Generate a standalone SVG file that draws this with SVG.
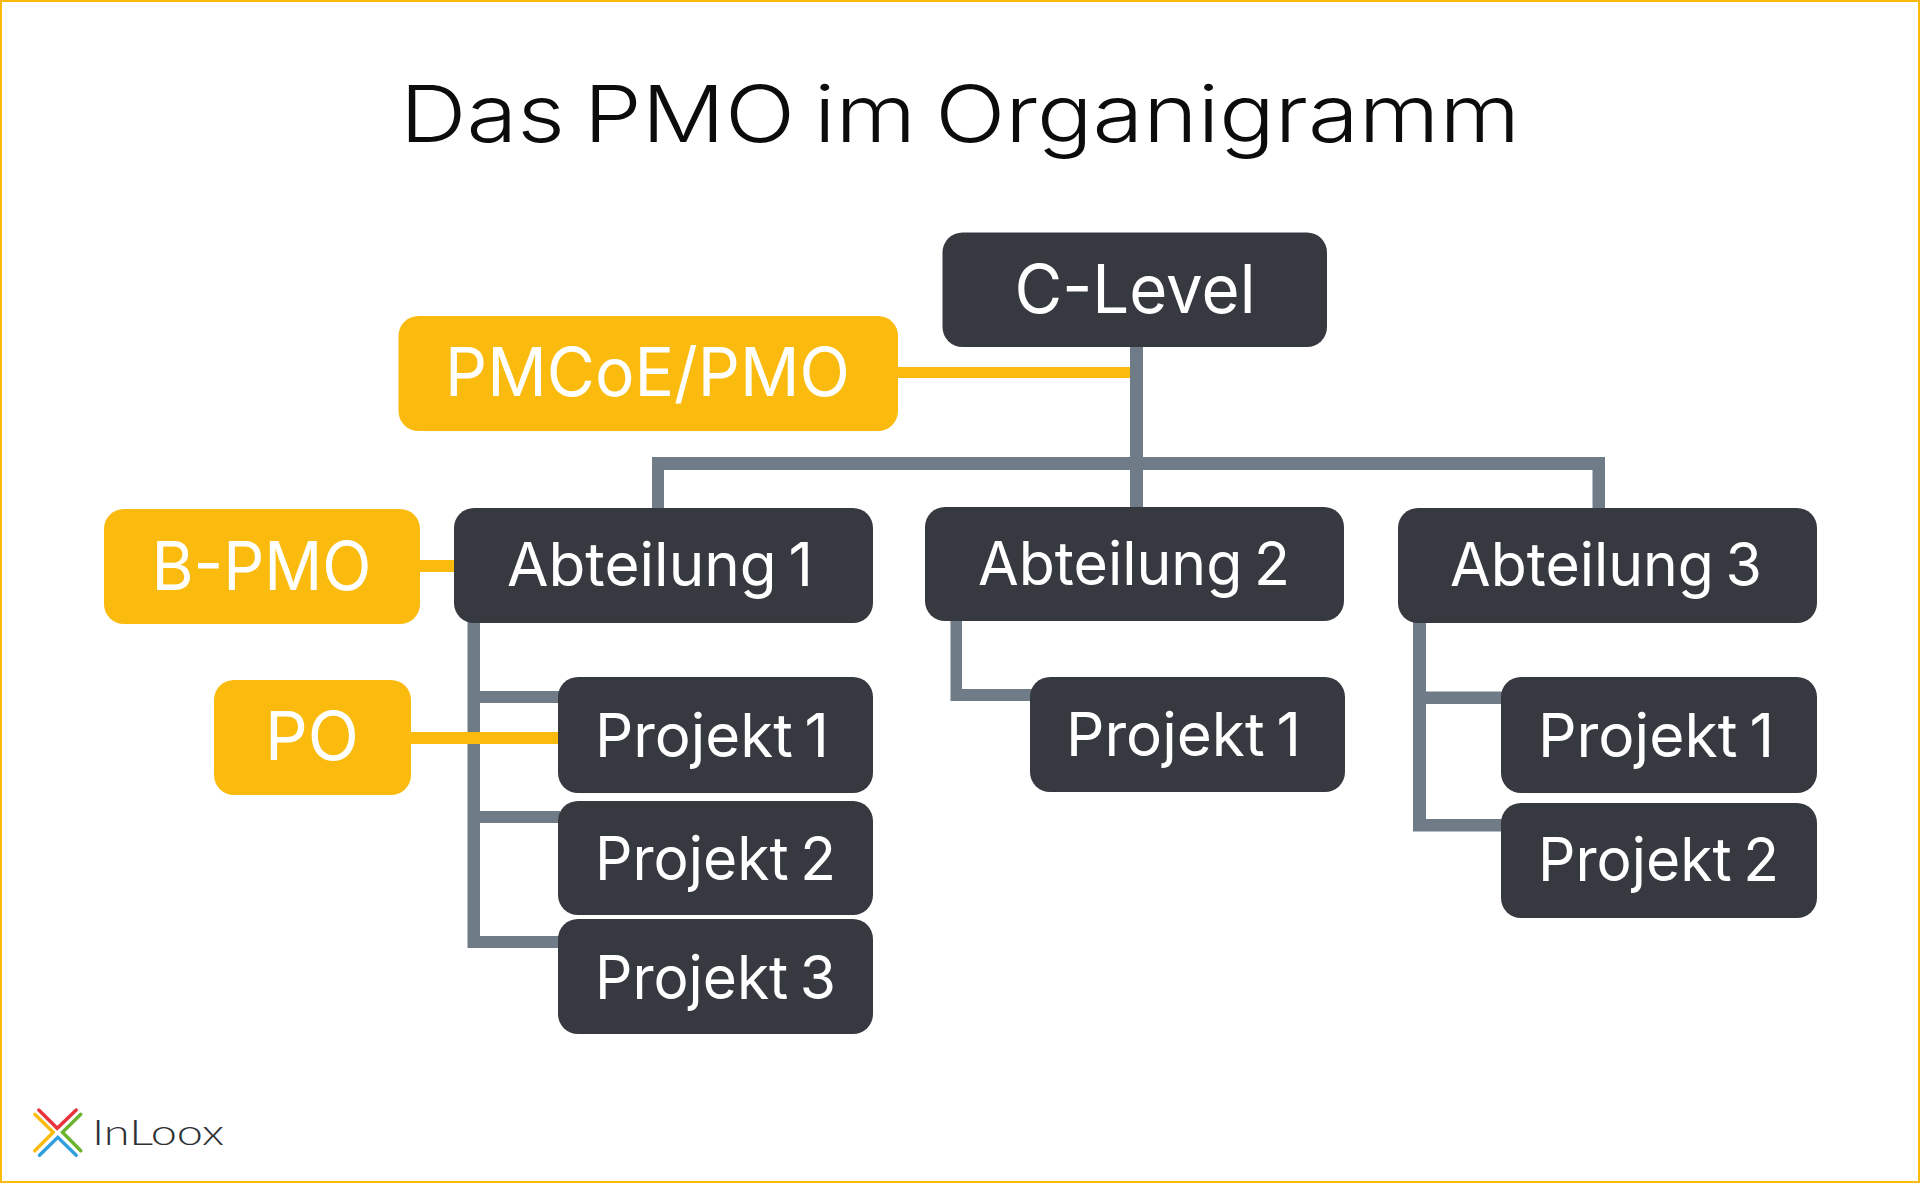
<svg xmlns="http://www.w3.org/2000/svg" width="1920" height="1183" viewBox="0 0 1920 1183">
<style>
.d{fill:#363a40}.y{fill:#fbbb0e}.g{fill:#6f7b87}.c{fill:#fbbb0e}
text{font-family:"Inter","Noto Sans",sans-serif}
.l{fill:#fff;font-size:60px;font-weight:400;word-spacing:-5px}
.m{fill:#fff;font-size:67px;font-weight:400}
.s{fill:none;stroke-width:3.4;stroke-linecap:round;stroke-linejoin:miter}
</style>
<rect width="1920" height="1183" fill="#fff"/>
<rect x="1" y="1" width="1918" height="1181" fill="none" stroke="#fbbb0e" stroke-width="2"/>
<text id="title" x="400" y="142" font-size="79" font-weight="350" word-spacing="-6" textLength="1120" lengthAdjust="spacingAndGlyphs" fill="#0c0c0c">Das PMO im Organigramm</text>
<g id="connectors">
<rect class="g" x="1130" y="340" width="13" height="170"/>
<path class="g" d="M652 510V457H1605V510H1592.500V470H664V510Z"/>
<path class="g" d="M467.500 620H480V691H560V703H480V811H560V823H480V936H560V948H467.500Z"/>
<path class="g" d="M950.500 618H962V689H1032V701H950.500Z"/>
<path class="g" d="M1413 620H1426V691.500H1503V704H1426V819H1503V831.500H1413Z"/>
<rect class="c" x="896" y="367" width="234" height="11"/>
<rect class="c" x="416" y="560" width="40" height="12"/>
<rect class="c" x="408" y="732" width="152" height="12"/>
</g>
<g id="c-level"><rect class="d" x="942.500" y="232.500" width="384.500" height="114.500" rx="20"/><text class="m" x="1014.500" y="313" textLength="241" lengthAdjust="spacingAndGlyphs">C-Level</text></g>
<g id="pmcoe"><rect class="y" x="398.500" y="316" width="499.500" height="115" rx="20"/><text class="m" x="445" y="396" textLength="405" lengthAdjust="spacingAndGlyphs">PMCoE/PMO</text></g>
<g id="b-pmo"><rect class="y" x="104" y="509" width="316" height="115" rx="20"/><text class="m" x="151.500" y="589.500" textLength="220" lengthAdjust="spacingAndGlyphs">B-PMO</text></g>
<g id="po"><rect class="y" x="214" y="680" width="197" height="115" rx="20"/><text class="m" x="265" y="760" textLength="94" lengthAdjust="spacingAndGlyphs">PO</text></g>
<g id="abt1"><rect class="d" x="454" y="508" width="419" height="115" rx="20"/><text class="l" x="507" y="586" textLength="306" lengthAdjust="spacingAndGlyphs">Abteilung 1</text></g>
<g id="abt2"><rect class="d" x="925" y="507" width="419" height="114" rx="20"/><text class="l" x="978" y="585" textLength="312" lengthAdjust="spacingAndGlyphs">Abteilung 2</text></g>
<g id="abt3"><rect class="d" x="1398" y="508" width="419" height="115" rx="20"/><text class="l" x="1450" y="586" textLength="312" lengthAdjust="spacingAndGlyphs">Abteilung 3</text></g>
<g id="a1p1"><rect class="d" x="558" y="677" width="315" height="116" rx="20"/><text class="l" x="595" y="757" textLength="234" lengthAdjust="spacingAndGlyphs">Projekt 1</text></g>
<g id="a1p2"><rect class="d" x="558" y="801" width="315" height="114" rx="20"/><text class="l" x="595" y="880" textLength="241" lengthAdjust="spacingAndGlyphs">Projekt 2</text></g>
<g id="a1p3"><rect class="d" x="558" y="919" width="315" height="115" rx="20"/><text class="l" x="595" y="999" textLength="241" lengthAdjust="spacingAndGlyphs">Projekt 3</text></g>
<g id="a2p1"><rect class="d" x="1030" y="677" width="315" height="115" rx="20"/><text class="l" x="1066" y="756" textLength="235" lengthAdjust="spacingAndGlyphs">Projekt 1</text></g>
<g id="a3p1"><rect class="d" x="1501" y="677" width="316" height="116" rx="20"/><text class="l" x="1538" y="757" textLength="236" lengthAdjust="spacingAndGlyphs">Projekt 1</text></g>
<g id="a3p2"><rect class="d" x="1501" y="803" width="316" height="115" rx="20"/><text class="l" x="1538" y="881" textLength="241" lengthAdjust="spacingAndGlyphs">Projekt 2</text></g>
<g id="logo">
<path class="s" stroke="#e8323c" d="M38.800 1110L57.200 1128.300L76.200 1110"/>
<path class="s" stroke="#fbbb0e" d="M34.800 1114.300L53.200 1132.300L34.800 1150.700"/>
<path class="s" stroke="#6ab42d" d="M80.800 1114.300L62.500 1132.300L80.800 1150.700"/>
<path class="s" stroke="#2f9fe0" d="M39.500 1155.300L57.800 1137.300L76.200 1155.300"/>
<text x="92" y="1145" font-size="36" font-weight="300" fill="#2e3135" textLength="132" lengthAdjust="spacingAndGlyphs" style="font-family:'Lato','Inter',sans-serif">InLoox</text>
</g>
</svg>
